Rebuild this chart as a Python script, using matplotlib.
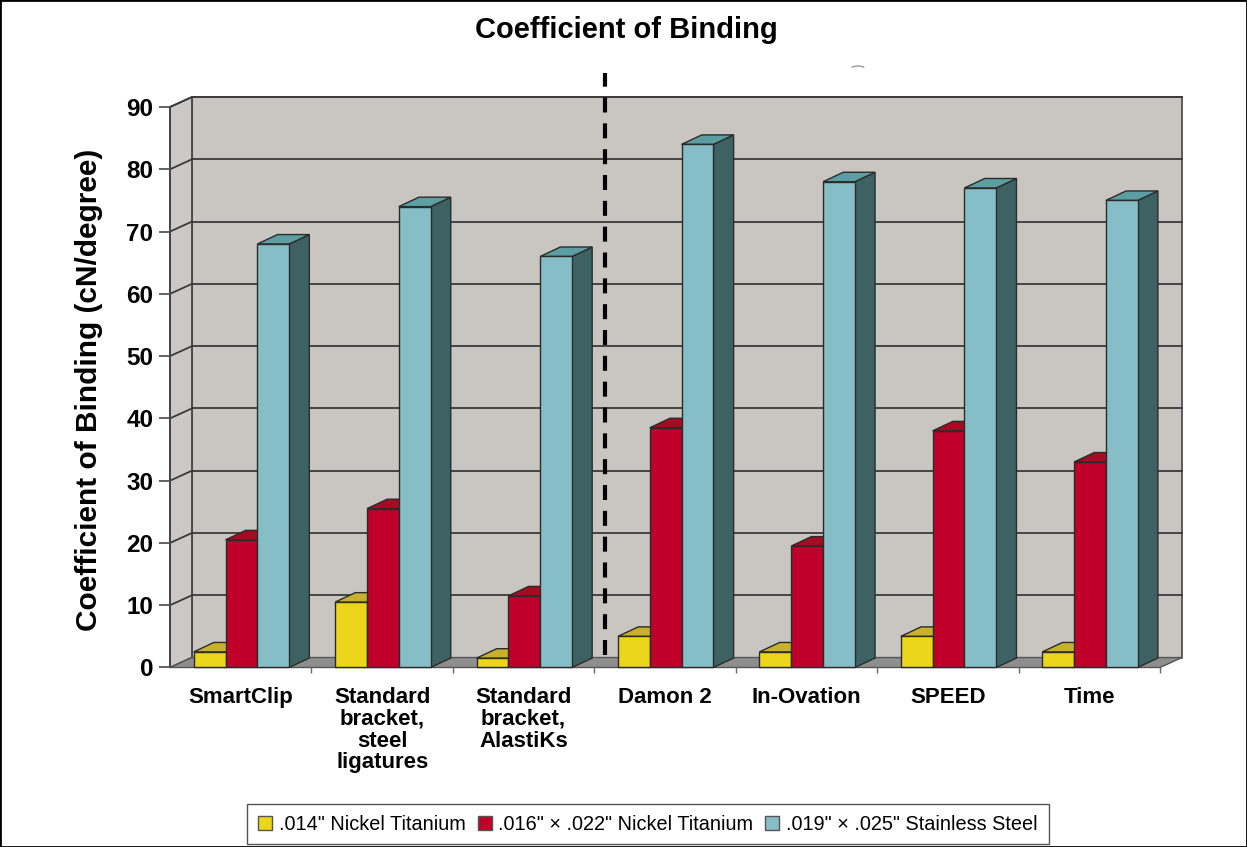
import matplotlib.pyplot as plt
from matplotlib.patches import Polygon, Patch, Rectangle, Arc

# values (cN/degree)
categories = ["SmartClip", "Standard\nbracket,\nsteel\nligatures", "Standard\nbracket,\nAlastiKs",
              "Damon 2", "In-Ovation", "SPEED", "Time"]
niti_014 = [2.5, 10.5, 1.5, 5, 2.5, 5, 2.5]
niti_016x022 = [20.5, 25.5, 11.5, 38.5, 19.5, 38, 33]
ss_019x025 = [68, 74, 66, 84, 78, 77, 75]

series_labels = ['.014" Nickel Titanium', '.016" \u00d7 .022" Nickel Titanium', '.019" \u00d7 .025" Stainless Steel']
# (front, top, side) colours per series
series_colors = [("#ecd61c", "#c8b12c", "#8a7a12"),
                 ("#c0002a", "#a30c22", "#6a0016"),
                 ("#86bec7", "#5c9ea1", "#3e6264")]

plt.rcParams['font.family'] = ['Liberation Sans', 'DejaVu Sans']

W, H = 1247, 847
fig = plt.figure(figsize=(W / 100, H / 100), dpi=100)
ax = fig.add_axes([170 / W, 1 - 667.5 / H, 990 / W, 560.5 / H])

n = len(categories)
ymax = 90
DX, DY = 0.155, 1.6        # depth of the 3-d box, in data units
bar_w = 0.225
edge = "#2b2b2b"

ax.set_xlim(0, n)
ax.set_ylim(0, ymax)
for s in ax.spines.values():
    s.set_visible(False)

# walls and floor
ax.add_patch(Polygon([(DX, DY), (n + DX, DY), (n + DX, ymax + DY), (DX, ymax + DY)],
                     fc="#c9c6c2", ec="#444444", lw=1.2, clip_on=False, zorder=0))
ax.add_patch(Polygon([(0, 0), (DX, DY), (DX, ymax + DY), (0, ymax)],
                     fc="#cbc8c5", ec="#444444", lw=1.2, clip_on=False, zorder=0))
ax.add_patch(Polygon([(0, 0), (n, 0), (n + DX, DY), (DX, DY)],
                     fc="#8e8e8e", ec="#555555", lw=1.0, clip_on=False, zorder=1))

# gridlines on back and left walls
for v in range(10, ymax + 1, 10):
    ax.plot([DX, n + DX], [v + DY, v + DY], color="#3a3a3a", lw=1.3, clip_on=False, zorder=0.5)
    ax.plot([0, DX], [v, v + DY], color="#3a3a3a", lw=1.3, clip_on=False, zorder=0.5)

# bars
data = [niti_014, niti_016x022, ss_019x025]
bdx, bdy = DX * 0.92, DY * 0.95
z = 2
for i in range(n):
    for j, vals in enumerate(data):
        v = vals[i]
        x0 = i + 0.505 + (j - 1.5) * bar_w
        x1 = x0 + bar_w
        front, top, side = series_colors[j]
        ax.add_patch(Polygon([(x1, 0), (x1 + bdx, bdy), (x1 + bdx, v + bdy), (x1, v)],
                             fc=side, ec=edge, lw=1, clip_on=False, zorder=z))
        ax.add_patch(Polygon([(x0, v), (x1, v), (x1 + bdx, v + bdy), (x0 + bdx, v + bdy)],
                             fc=top, ec=edge, lw=1, clip_on=False, zorder=z))
        ax.add_patch(Rectangle((x0, 0), bar_w, v, fc=front, ec=edge, lw=1, clip_on=False, zorder=z))
        z += 0.01

# dashed divider between the conventional and self-ligating groups
ax.plot([3 + DX / 2] * 2, [2, 95.5], color="black", lw=3, ls=(0, (3.6, 2.6)),
        clip_on=False, zorder=10)

# axes: y ticks on the front-left edge, category labels under the floor
ax.plot([0, 0], [0, ymax], color="#444444", lw=1.3, clip_on=False, zorder=1)
ax.set_yticks(range(0, ymax + 1, 10))
ax.tick_params(axis='y', length=8, width=1.3, color="#555555", pad=4,
               labelsize=17.5)
for t in ax.get_yticklabels():
    t.set_fontweight('bold')
ax.set_xticks([i + 0.5 for i in range(n)])
ax.set_xticklabels(categories, fontsize=16, fontweight='bold', linespacing=1.05, va='top')
ax.tick_params(axis='x', length=0, pad=14)
ax.set_xticks(range(1, n + 1), minor=True)
ax.tick_params(axis='x', which='minor', length=4, width=1, color="#666666")

ax.set_ylabel("Coefficient of Binding (cN/degree)", fontsize=21.5, fontweight='bold')
ax.yaxis.set_label_coords(-0.068, 0.495)

fig.text(626 / W, 1 - 30 / H, "Coefficient of Binding", ha='center', va='center',
         fontsize=21, fontweight='bold')

# small grey mark above the plot
fig.patches.append(Arc((858 / W, 1 - 70 / H), 16 / W, 8 / H, theta1=30, theta2=150,
                       transform=fig.transFigure, color="#999999", lw=1))

handles = [Patch(fc=c[0], ec="#555555", lw=1) for c in series_colors]
fig.legend(handles, series_labels, loc='center', bbox_to_anchor=(648 / W, 1 - 824 / H),
           ncol=3, frameon=True, fancybox=False, edgecolor="#555555", framealpha=1,
           prop={'family': ['Liberation Sans'], 'size': 14.3},
           handlelength=0.7, handleheight=0.7, handletextpad=0.35, columnspacing=0.6,
           borderpad=0.55)

fig.patches.append(Rectangle((0, 0), 1, 1, transform=fig.transFigure, fill=False,
                             ec="black", lw=2))

plt.savefig("out.png", dpi=100)
